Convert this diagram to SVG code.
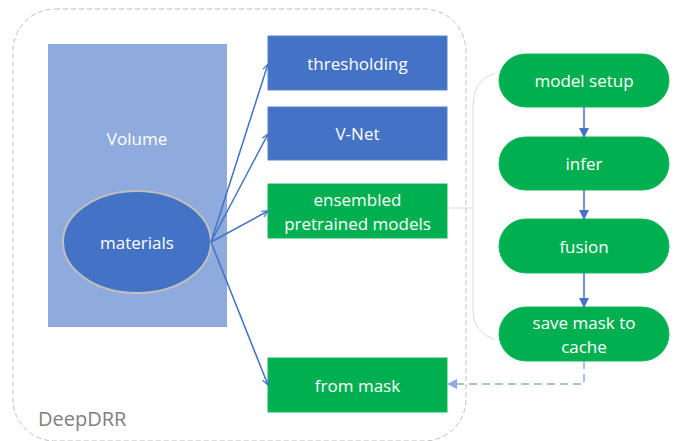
<svg xmlns="http://www.w3.org/2000/svg" width="678" height="441" viewBox="0 0 678 441">
<style>
text{font-family:"Open Sans","Noto Sans","DejaVu Sans",sans-serif;font-size:17px;fill:#fff;text-anchor:middle;dominant-baseline:central}
.blue{fill:#4472C4;stroke:#5A82CA;stroke-width:1}
.green{fill:#00B050;stroke:#10B85C;stroke-width:1}
.conn{stroke:#4472C4;stroke-width:1.5;fill:none}
</style>
<defs>
<marker id="open" viewBox="0 0 10 10" refX="9" refY="5" markerWidth="8" markerHeight="8" markerUnits="userSpaceOnUse" orient="auto"><path d="M1,1 L9,5 L1,9" fill="none" stroke="#4472C4" stroke-width="1.5"/></marker>
<marker id="fill" viewBox="0 0 10 10" refX="9" refY="5" markerWidth="10" markerHeight="10" markerUnits="userSpaceOnUse" orient="auto"><path d="M0,0 L10,5 L0,10 z" fill="#4472C4"/></marker>
<marker id="fillLight" viewBox="0 0 10 10" refX="9" refY="5" markerWidth="10" markerHeight="10" markerUnits="userSpaceOnUse" orient="auto"><path d="M0,0 L10,5 L0,10 z" fill="#8FAADC"/></marker>
</defs>
<rect width="678" height="441" fill="#fff"/>
<g id="deepdrr">
<rect x="13" y="9" width="453" height="432" rx="42" fill="none" stroke="#BFBFBF" stroke-width="1" stroke-dasharray="5,3"/>
<text x="38" y="418" style="fill:#7F7F7F;font-size:20px;text-anchor:start">DeepDRR</text>
</g>
<g id="bracket">
<path d="M495,73 Q473,80 473,105 L473,312 Q473,332 495,340" fill="none" stroke="#D9D9D9" stroke-width="1"/>
<line x1="447" y1="208" x2="473" y2="208" stroke="#D9D9D9" stroke-width="1"/>
</g>
<g id="volume">
<rect x="48" y="44" width="179" height="283" fill="#8FAADC"/>
<text x="137" y="138">Volume</text>
</g>
<g id="materials">
<ellipse cx="137" cy="242" rx="74" ry="51" fill="#4472C4" stroke="#BFBFBF" stroke-width="2"/>
<text x="137" y="242">materials</text>
</g>
<g id="thresholding">
<rect class="blue" x="268" y="36" width="179" height="54"/>
<text x="357.5" y="63">thresholding</text>
</g>
<g id="vnet">
<rect class="blue" x="268" y="107" width="179" height="53"/>
<text x="357.5" y="133.5">V-Net</text>
</g>
<g id="ensembled">
<rect class="green" x="268" y="184" width="179" height="54"/>
<text x="357.5" y="199">ensembled</text>
<text x="357.5" y="223">pretrained models</text>
</g>
<g id="frommask">
<rect class="green" x="268" y="358" width="179" height="54"/>
<text x="357.5" y="385">from mask</text>
</g>
<g id="modelsetup">
<rect class="green" x="499" y="54" width="170" height="53" rx="26.5"/>
<text x="584" y="80.5">model setup</text>
</g>
<g id="infer">
<rect class="green" x="499" y="137" width="170" height="53" rx="26.5"/>
<text x="584" y="163.5">infer</text>
</g>
<g id="fusion">
<rect class="green" x="499" y="219" width="170" height="54" rx="27"/>
<text x="584" y="246">fusion</text>
</g>
<g id="savemask">
<rect class="green" x="499" y="307" width="170" height="54" rx="27"/>
<text x="584" y="322">save mask to</text>
<text x="584" y="346">cache</text>
</g>
<g id="connectors">
<line class="conn" x1="211" y1="242" x2="268" y2="64" marker-end="url(#open)"/>
<line class="conn" x1="211" y1="242" x2="268" y2="134" marker-end="url(#open)"/>
<line class="conn" x1="211" y1="242" x2="268" y2="211" marker-end="url(#open)"/>
<line class="conn" x1="211" y1="242" x2="268" y2="385" marker-end="url(#open)"/>
<line class="conn" x1="584" y1="107" x2="584" y2="137" marker-end="url(#fill)"/>
<line class="conn" x1="584" y1="190" x2="584" y2="219" marker-end="url(#fill)"/>
<line class="conn" x1="584" y1="273" x2="584" y2="307" marker-end="url(#fill)"/>
<path d="M584,361 L584,384 L448,384" fill="none" stroke="#8FAADC" stroke-width="1.5" stroke-dasharray="8,5" marker-end="url(#fillLight)"/>
</g>
</svg>
